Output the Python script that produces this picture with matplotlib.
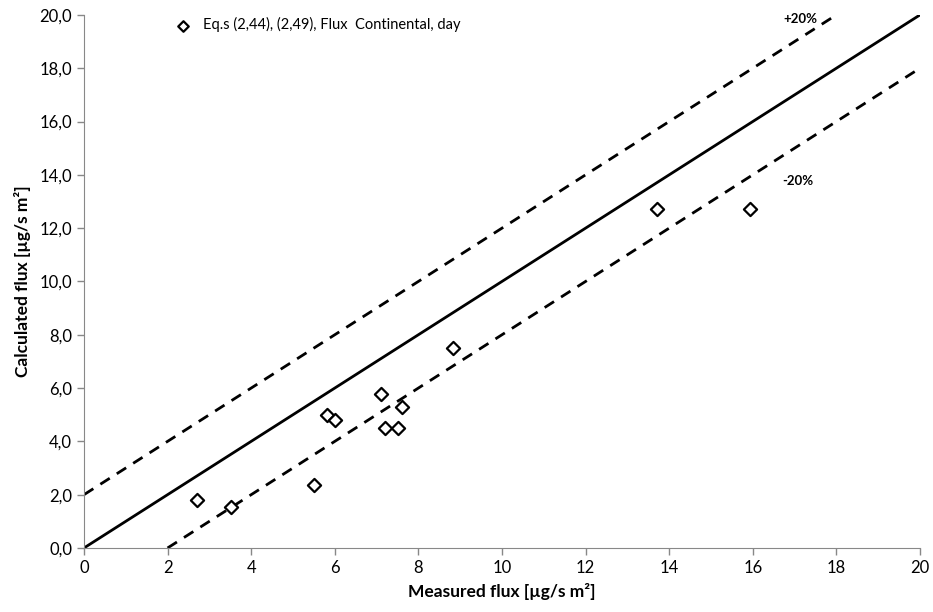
import matplotlib
matplotlib.use("Agg")
import matplotlib.pyplot as plt
from matplotlib.ticker import FuncFormatter
import numpy as np

measured = [2.70, 3.52, 5.50, 5.81, 6.00, 7.10, 7.20, 7.51, 7.61, 8.83, 13.71, 15.93]
calculated = [1.80, 1.54, 2.36, 4.99, 4.80, 5.78, 4.50, 4.50, 5.29, 7.50, 12.72, 12.72]
series_label = "Eq.s (2,44), (2,49), Flux  Continental, day"
line_x = [0, 20]
upper_x = [0, 18]
lower_x = [2, 20]
offset = 2.0

plt.rcParams['font.family'] = ['Lato', 'DejaVu Sans']

fig = plt.figure(figsize=(9.33, 6.12), dpi=100)
ax = fig.add_axes([0.090, 0.1046, 0.896, 0.871])

ax.plot(line_x, line_x, color='black', lw=2.0)
ax.plot(upper_x, [v + offset for v in upper_x], color='black', lw=2.0, ls=(0, (4, 3)))
ax.plot(lower_x, [v - offset for v in lower_x], color='black', lw=2.0, ls=(0, (4, 3)))
ax.scatter(measured, calculated, marker='D', s=45, facecolors='white',
           edgecolors='black', linewidths=1.6, zorder=5, label=series_label)

ax.text(17.13, 19.85, "+20%", fontsize=9.5, fontweight='bold', ha='center', va='center')
ax.text(17.08, 13.77, "-20%", fontsize=9.5, fontweight='bold', ha='center', va='center')

ax.set_xlim(0, 20)
ax.set_ylim(0, 20)
ax.set_xticks(np.arange(0, 21, 2))
ax.set_yticks(np.arange(0, 21, 2))
ax.yaxis.set_major_formatter(FuncFormatter(lambda v, p: f"{v:.1f}".replace('.', ',')))
ax.tick_params(axis='both', direction='out', length=5, width=1, color='#888888', labelsize=12)
ax.spines['top'].set_visible(False)
ax.spines['right'].set_visible(False)
ax.spines['left'].set_color('#888888')
ax.spines['bottom'].set_color('#888888')

ax.set_xlabel("Measured flux [µg/s m²]", fontsize=12.5, fontweight='bold', labelpad=5)
ax.set_ylabel("Calculated flux [µg/s m²]", fontsize=12.5, fontweight='bold', labelpad=6)

ax.legend(loc='upper left', bbox_to_anchor=(0.085, 1.02), frameon=False, fontsize=10.5,
          handletextpad=0.4, markerscale=0.8)

fig.savefig("out.png", dpi=100)
